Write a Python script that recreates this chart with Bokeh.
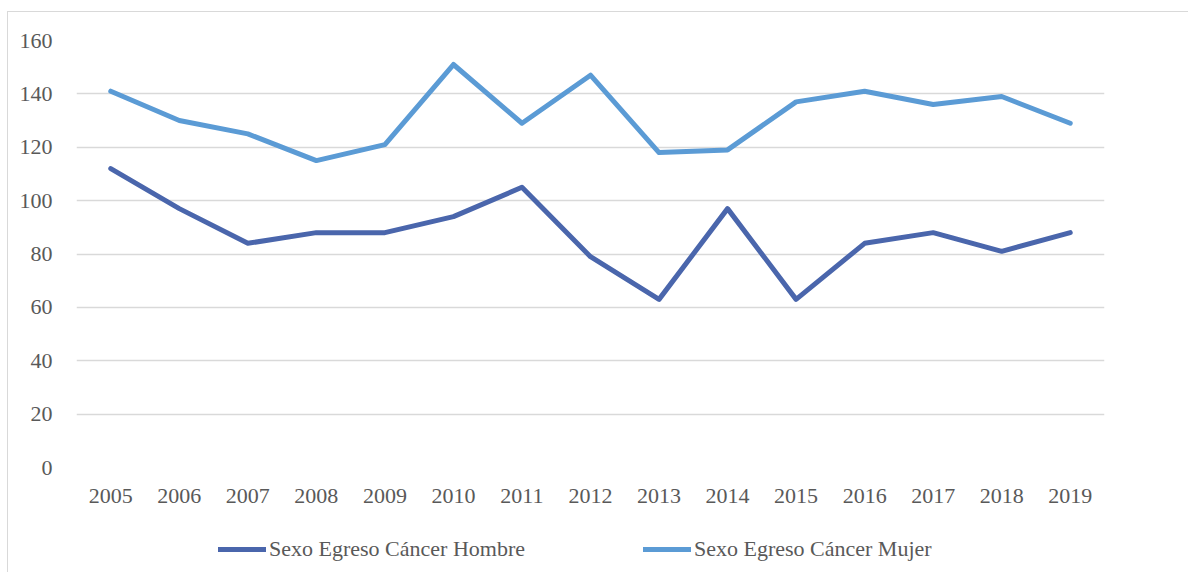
from bokeh.plotting import figure
from bokeh.layouts import column
from bokeh.models import Range1d, FactorRange, SingleIntervalTicker, Legend, LegendItem
from bokeh.embed import file_html
from bokeh.resources import INLINE

years = ["2005", "2006", "2007", "2008", "2009", "2010", "2011", "2012",
         "2013", "2014", "2015", "2016", "2017", "2018", "2019"]
hombre = [112, 97, 84, 88, 88, 94, 105, 79, 63, 97, 63, 84, 88, 81, 88]
mujer = [141, 130, 125, 115, 121, 151, 129, 147, 118, 119, 137, 141, 136, 139, 129]
series_names = ["Sexo Egreso Cáncer Hombre", "Sexo Egreso Cáncer Mujer"]
colors = ["#4A66AC", "#5B9BD5"]

FONT = "Liberation Serif"
TXT = "#595959"
W = 1180

p = figure(width=W, height=508, x_range=FactorRange(*years), y_range=Range1d(0, 160),
           output_backend="svg", toolbar_location=None,
           min_border_left=68, min_border_right=84, min_border_top=28, min_border_bottom=53)
p.outline_line_color = None
p.background_fill_color = "white"
p.border_fill_color = "white"

p.xgrid.grid_line_color = None
p.ygrid.grid_line_color = "#d9d9d9"
p.ygrid.grid_line_width = 1.5

p.yaxis.ticker = SingleIntervalTicker(interval=20)
for ax in (p.xaxis, p.yaxis):
    ax.axis_line_color = None
    ax.major_tick_line_color = None
    ax.minor_tick_line_color = None
    ax.major_tick_out = 0
    ax.major_tick_in = 0
    ax.major_label_text_font = FONT
    ax.major_label_text_font_size = "22px"
    ax.major_label_text_color = TXT
p.yaxis.major_label_standoff = 20
p.xaxis.major_label_standoff = 21

line_kw = dict(line_width=5, line_cap="round", line_join="round")
p.line(years, hombre, line_color=colors[0], **line_kw)
p.line(years, mujer, line_color=colors[1], **line_kw)

# legend strip below the chart (its sample lines reuse the series, kept out of view)
leg = figure(width=W, height=52, x_range=FactorRange(*years), y_range=Range1d(1000, 1001),
             output_backend="svg", toolbar_location=None,
             x_axis_location=None, y_axis_location=None,
             min_border_left=0, min_border_right=0, min_border_top=0, min_border_bottom=0)
leg.grid.visible = False
leg.outline_line_color = None
leg.border_fill_color = "white"
l1 = leg.line(years, hombre, line_color=colors[0], **line_kw)
l2 = leg.line(years, mujer, line_color=colors[1], **line_kw)

legend = Legend(items=[LegendItem(label=series_names[0], renderers=[l1]),
                       LegendItem(label=series_names[1], renderers=[l2])],
                location=(142, 10), orientation="horizontal",
                label_text_font=FONT, label_text_font_size="22px", label_text_color=TXT,
                glyph_width=48, glyph_height=20, label_standoff=3, spacing=118,
                padding=0, margin=0, border_line_color=None, background_fill_alpha=0)
leg.add_layout(legend, "center")

layout = column(p, leg, spacing=0)
layout.margin = (11, 0, 0, 7)
layout.styles = {"border-top": "1px solid #d9d9d9", "border-left": "1px solid #d9d9d9"}

open("out.html", "w").write(file_html(layout, INLINE))
